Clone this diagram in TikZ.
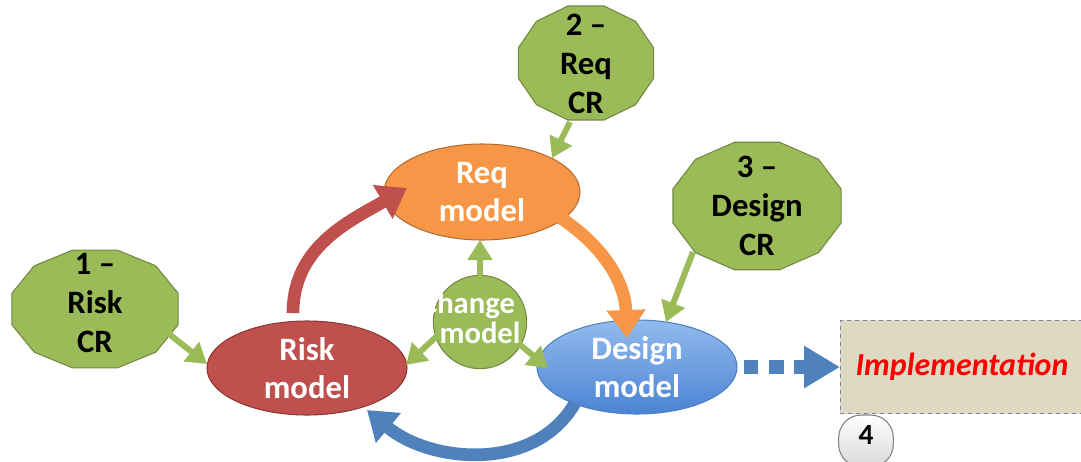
\documentclass[tikz,border=0pt]{standalone}
\usepackage{fontspec}
\setmainfont{Carlito}
\usetikzlibrary{arrows.meta,shapes.geometric,calc}
\definecolor{gfill}{HTML}{9BBB59}
\definecolor{gdraw}{HTML}{71893F}
\definecolor{rfill}{HTML}{C0504D}
\definecolor{rdraw}{HTML}{8C3836}
\definecolor{ofill}{HTML}{F79646}
\definecolor{odraw}{HTML}{B66D31}
\definecolor{bfill}{HTML}{4F81BD}
\definecolor{btop}{HTML}{93BBEE}
\definecolor{bbot}{HTML}{4A83D3}
\definecolor{ibox}{HTML}{DDD9C3}
\definecolor{iborder}{HTML}{8080A0}
\newcommand\crpoly[4]{\filldraw[crshape] ({#1+#3*cos(15)},{#2-#4*sin(15)}) \foreach \k in {1,...,11}{ -- ({#1+#3*cos(15+30*\k)},{#2-#4*sin(15+30*\k)}) } -- cycle;}
\begin{document}
\begin{tikzpicture}[x=0.75pt,y=-0.75pt,
  lbl/.style={font=\bfseries\fontsize{24.5}{29}\selectfont, align=center, inner sep=0pt},
  smalllbl/.style={font=\bfseries\fontsize{23}{20}\selectfont, inner sep=0pt, text=white},
  crshape/.style={fill=gfill, draw=gdraw, line width=0.8pt},
  mshape/.style={ellipse, inner sep=0pt, line width=0.8pt},
  garrow/.style={draw=gfill, line width=4.5pt, -{Triangle[length=15pt,width=18pt,fill=gfill]}},
  barc/.style={line width=9.5pt, -{Triangle[length=21pt,width=28pt]}},
]
\useasboundingbox (0,0) rectangle (1081,461);

% change-request polygons
\crpoly{95}{309}{86}{61}
\crpoly{586}{63}{70}{59}
\crpoly{757}{206}{87}{66}

% models
\node[mshape, fill=rfill, draw=rdraw, minimum width=150pt, minimum height=70.5pt] (riskm) at (307,368) {};
\node[mshape, fill=ofill, draw=odraw, minimum width=147pt, minimum height=72pt] (reqm) at (482,192) {};
\node[mshape, top color=btop, bottom color=bbot, draw=bfill, minimum width=150pt, minimum height=70.5pt] (desm) at (637,367) {};
\node[circle, inner sep=0pt, fill=gfill, draw=gdraw, line width=0.8pt, minimum size=70pt] (chg) at (480,322) {};

% implementation box and marker
\node[draw=iborder, dashed, line width=0.6pt, fill=ibox, minimum width=200pt, minimum height=70pt, anchor=west] (impl) at (840,367) {};
\node[font=\bfseries\itshape\fontsize{24}{29}\selectfont, text=red, inner sep=0pt] at (962,367) {Implementation};
\node[draw=gray, line width=0.8pt, top color=white, bottom color=black!15, rounded corners=17pt,
      minimum width=41pt, minimum height=39pt, inner sep=0pt] (four) at (866,441) {};

% big cycle arrows
\draw[barc, draw=rfill] ($(riskm)+(-14,-55)$) to[out=90,in=210] ($(reqm)+(-75,-4)$);
\draw[barc, draw=ofill] ($(reqm)+(66,18)$) to[out=-30,in=92] ($(desm)+(-10,-29)$);
\draw[barc, draw=bfill] ($(desm)+(-62,36)$) to[out=-120,in=-40] ($(riskm)+(60,42)$);

% dotted arrow to implementation
\draw[draw=bfill, line width=10pt, dash pattern=on 11pt off 8pt, -{Triangle[length=27pt,width=30pt]}]
  ($(desm.east)+(6,0)$) -- (impl.west);

% green change-request arrows
\node[lbl] (riskcr) at (95,303) {1 –\\Risk\\CR};
\node[lbl] (reqcr) at (586,64) {2 –\\Req\\CR};
\node[lbl] (descr) at (757,206) {3 –\\Design\\CR};
\draw[garrow] ($(riskcr)+(50,12)$) -- ($(riskm)+(-100,-4)$);
\draw[garrow] ($(reqcr)+(-16,58)$) -- ($(reqm)+(70,-34)$);
\draw[garrow] ($(descr)+(-64,46)$) -- ($(desm)+(29,-45)$);
\draw[garrow] ($(chg)+(0,-44)$) -- ($(reqm)+(-2,48)$);
\draw[garrow] ($(chg)+(-42,13)$) -- ($(riskm)+(99,-3)$);
\draw[garrow] ($(chg)+(38,21)$) -- ($(desm)+(-89,1)$);

% texts
\node[lbl, text=white] at (riskm) {Risk\\model};
\node[lbl, text=white] at (reqm) {Req\\model};
\node[lbl, text=white] at (desm) {Design\\model};
\node[smalllbl] at (468,305) {Change};
\node[smalllbl] at (480,333) {model};
\node[font=\bfseries\fontsize{22}{26}\selectfont, inner sep=0pt] at ($(four)+(0,-6)$) {4};
\end{tikzpicture}
\end{document}
